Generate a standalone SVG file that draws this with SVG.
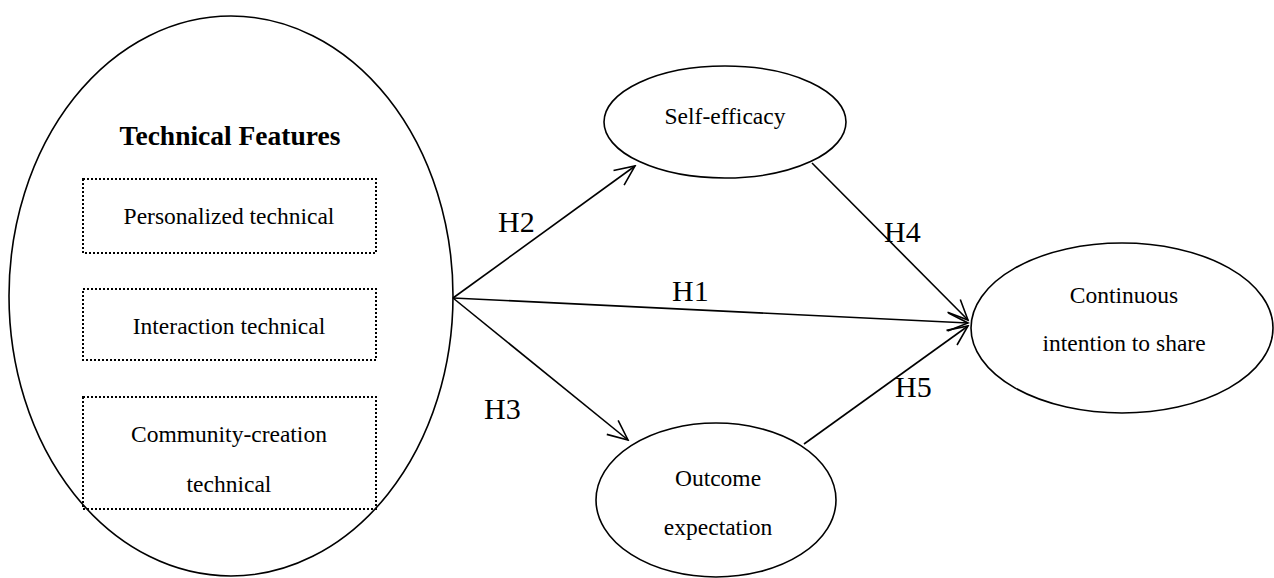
<svg xmlns="http://www.w3.org/2000/svg" width="1274" height="578" viewBox="0 0 1274 578">
<style>
.node{fill:#fff;stroke:#000;stroke-width:1.6}
.box{fill:none;stroke:#000;stroke-width:2;stroke-dasharray:2,2}
.t{font-family:"Liberation Serif","Times New Roman",serif;font-size:23.5px;fill:#000;text-anchor:middle}
.title{font-family:"Liberation Serif","Times New Roman",serif;font-size:27.5px;font-weight:bold;fill:#000;text-anchor:middle}
.h{font-family:"Liberation Serif","Times New Roman",serif;font-size:30px;fill:#000}
.c{stroke:#000;stroke-width:1.6;fill:none}
</style>
<defs>
<marker id="arr" markerUnits="userSpaceOnUse" markerWidth="24" markerHeight="24" viewBox="-2 -12 24 24" refX="20" refY="0" orient="auto">
<path d="M0,-9 L20,0 L0,9" fill="none" stroke="#000" stroke-width="1.6"/>
</marker>
</defs>
<g id="technical-features">
<ellipse class="node" cx="231" cy="296" rx="222" ry="280"/>
<text class="title" x="230" y="145">Technical Features</text>
<rect class="box" x="83" y="179" width="293" height="74"/>
<text class="t" x="229" y="224">Personalized technical</text>
<rect class="box" x="83" y="289" width="293" height="71"/>
<text class="t" x="229" y="334">Interaction technical</text>
<rect class="box" x="83" y="397" width="293" height="112"/>
<text class="t" x="229" y="442">Community-creation</text>
<text class="t" x="229" y="492">technical</text>
</g>
<g id="self-efficacy">
<ellipse class="node" cx="725" cy="122" rx="121" ry="56"/>
<text class="t" x="725" y="124">Self-efficacy</text>
</g>
<g id="outcome-expectation">
<ellipse class="node" cx="716" cy="500" rx="120" ry="77"/>
<text class="t" x="718" y="486">Outcome</text>
<text class="t" x="718" y="535">expectation</text>
</g>
<g id="continuous-intention">
<ellipse class="node" cx="1122" cy="328" rx="151" ry="85"/>
<text class="t" x="1124" y="303">Continuous</text>
<text class="t" x="1124" y="351">intention to share</text>
</g>
<g id="connectors">
<line class="c" x1="453" y1="298" x2="635" y2="166" marker-end="url(#arr)"/>
<line class="c" x1="453" y1="298" x2="968" y2="323" marker-end="url(#arr)"/>
<line class="c" x1="453" y1="298" x2="628" y2="440" marker-end="url(#arr)"/>
<line class="c" x1="812" y1="163" x2="968" y2="320" marker-end="url(#arr)"/>
<line class="c" x1="804" y1="444" x2="968" y2="326" marker-end="url(#arr)"/>
<text class="h" x="498" y="232">H2</text>
<text class="h" x="672" y="301">H1</text>
<text class="h" x="884" y="242">H4</text>
<text class="h" x="484" y="419">H3</text>
<text class="h" x="895" y="397">H5</text>
</g>
</svg>
